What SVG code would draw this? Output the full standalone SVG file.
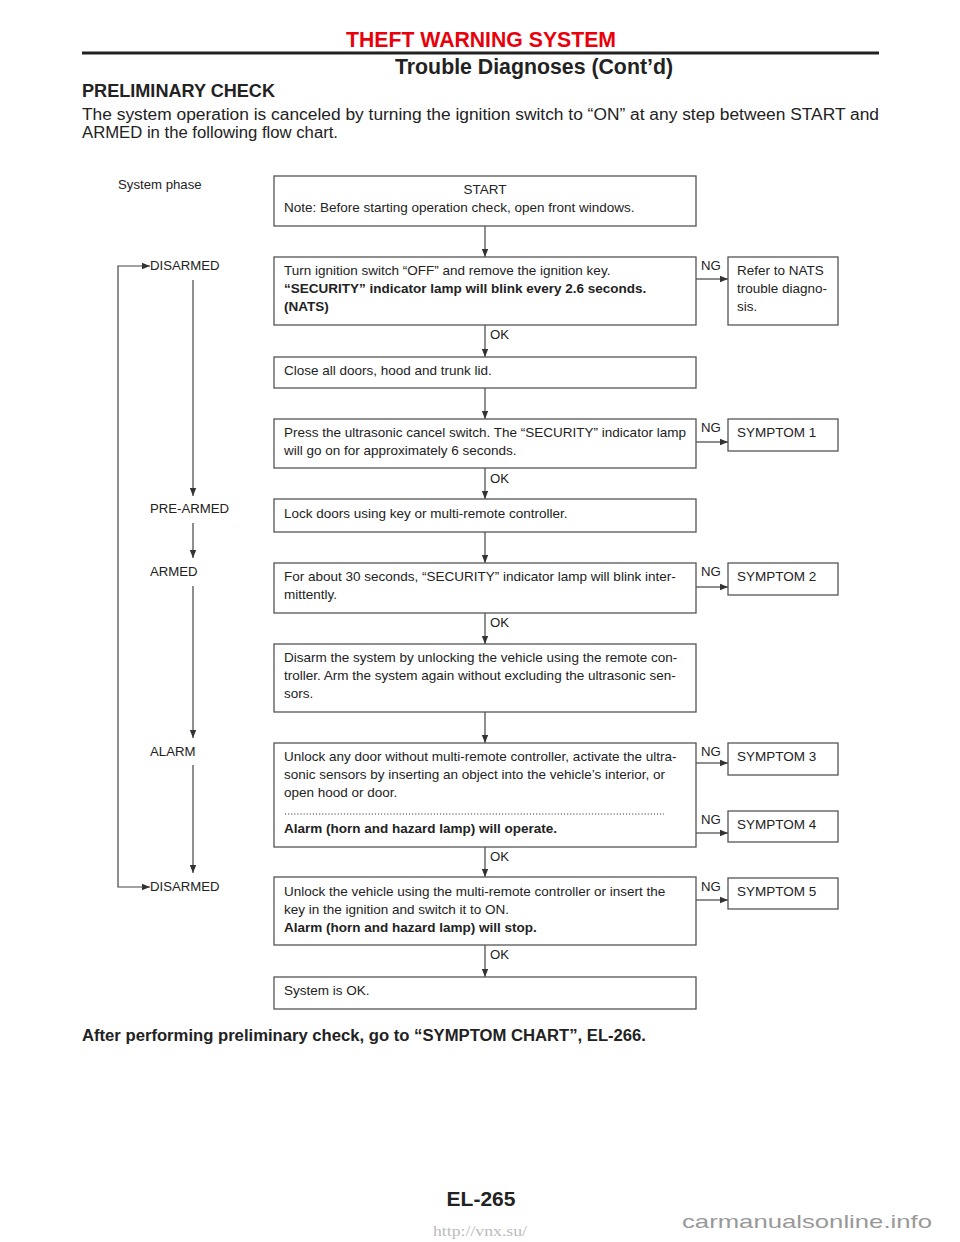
<svg xmlns="http://www.w3.org/2000/svg" width="960" height="1242" viewBox="0 0 960 1242">
<style>
  text { font-family: "Liberation Sans", Arial, sans-serif; fill: #222; }
  .t { font-size: 13.5px; }
  .p { font-size: 13.2px; }
  .b { font-weight: bold; }
  .box { fill: #fff; stroke: #555; stroke-width: 1.3; }
  .ln { fill: none; stroke: #444; stroke-width: 1.2; }
</style>
<defs>
  <marker id="ah" viewBox="0 0 10 10" refX="10" refY="5" markerWidth="8" markerHeight="8" orient="auto" markerUnits="userSpaceOnUse">
    <path d="M0,1 L10,5 L0,9 z" fill="#333"/>
  </marker>
</defs>
<rect width="960" height="1242" fill="#fff"/>

<g id="header">
  <text x="346" y="47" font-size="22" class="b" style="fill:#e8000b" textLength="270" lengthAdjust="spacingAndGlyphs">THEFT WARNING SYSTEM</text>
  <line x1="82" y1="53" x2="879" y2="53" stroke="#222" stroke-width="3"/>
  <text x="395" y="74" font-size="22" class="b" textLength="278" lengthAdjust="spacingAndGlyphs">Trouble Diagnoses (Cont’d)</text>
  <text x="82" y="97" font-size="18" class="b" textLength="193" lengthAdjust="spacingAndGlyphs">PRELIMINARY CHECK</text>
  <text x="82" y="120" font-size="16" textLength="797" lengthAdjust="spacingAndGlyphs">The system operation is canceled by turning the ignition switch to “ON” at any step between START and</text>
  <text x="82" y="138" font-size="16" textLength="256" lengthAdjust="spacingAndGlyphs">ARMED in the following flow chart.</text>
</g>

<g id="phases" class="p">
  <text x="118" y="189">System phase</text>
  <text x="150" y="270">DISARMED</text>
  <text x="150" y="513">PRE-ARMED</text>
  <text x="150" y="576">ARMED</text>
  <text x="150" y="756">ALARM</text>
  <text x="150" y="891">DISARMED</text>
</g>

<g id="connectors">
  <line class="ln" x1="485" y1="226" x2="485" y2="257" marker-end="url(#ah)"/>
  <line class="ln" x1="485" y1="325" x2="485" y2="357" marker-end="url(#ah)"/>
  <line class="ln" x1="485" y1="388" x2="485" y2="419" marker-end="url(#ah)"/>
  <line class="ln" x1="485" y1="468" x2="485" y2="499" marker-end="url(#ah)"/>
  <line class="ln" x1="485" y1="532" x2="485" y2="563" marker-end="url(#ah)"/>
  <line class="ln" x1="485" y1="613" x2="485" y2="644" marker-end="url(#ah)"/>
  <line class="ln" x1="485" y1="712" x2="485" y2="743" marker-end="url(#ah)"/>
  <line class="ln" x1="485" y1="847" x2="485" y2="877" marker-end="url(#ah)"/>
  <line class="ln" x1="485" y1="945" x2="485" y2="977" marker-end="url(#ah)"/>
  <line class="ln" x1="696" y1="279" x2="728" y2="279" marker-end="url(#ah)"/>
  <line class="ln" x1="696" y1="442" x2="728" y2="442" marker-end="url(#ah)"/>
  <line class="ln" x1="696" y1="587" x2="728" y2="587" marker-end="url(#ah)"/>
  <line class="ln" x1="696" y1="763" x2="728" y2="763" marker-end="url(#ah)"/>
  <line class="ln" x1="696" y1="833" x2="728" y2="833" marker-end="url(#ah)"/>
  <line class="ln" x1="696" y1="900" x2="728" y2="900" marker-end="url(#ah)"/>
  <line class="ln" x1="193" y1="280" x2="193" y2="496" marker-end="url(#ah)"/>
  <line class="ln" x1="193" y1="523" x2="193" y2="558" marker-end="url(#ah)"/>
  <line class="ln" x1="193" y1="586" x2="193" y2="738" marker-end="url(#ah)"/>
  <line class="ln" x1="193" y1="765" x2="193" y2="873" marker-end="url(#ah)"/>
  <path class="ln" d="M118,580 L118,266 L150,266" marker-end="url(#ah)"/>
  <path class="ln" d="M118,580 L118,887 L150,887" marker-end="url(#ah)"/>
</g>

<g id="labels" class="p">
  <text x="490" y="339">OK</text>
  <text x="490" y="483">OK</text>
  <text x="490" y="627">OK</text>
  <text x="490" y="861">OK</text>
  <text x="490" y="959">OK</text>
  <text x="701" y="270">NG</text>
  <text x="701" y="432">NG</text>
  <text x="701" y="576">NG</text>
  <text x="701" y="756">NG</text>
  <text x="701" y="824">NG</text>
  <text x="701" y="891">NG</text>
</g>

<g id="n-start">
  <rect class="box" x="274" y="176" width="422" height="50"/>
  <text class="t" x="485" y="194" text-anchor="middle">START</text>
  <text class="t" x="284" y="212">Note: Before starting operation check, open front windows.</text>
</g>
<g id="n-ignition">
  <rect class="box" x="274" y="257" width="422" height="68"/>
  <text class="t" x="284" y="275">Turn ignition switch “OFF” and remove the ignition key.</text>
  <text class="t b" x="284" y="293">“SECURITY” indicator lamp will blink every 2.6 seconds.</text>
  <text class="t b" x="284" y="311">(NATS)</text>
</g>
<g id="n-nats">
  <rect class="box" x="728" y="257" width="110" height="68"/>
  <text class="t" x="737" y="275">Refer to NATS</text>
  <text class="t" x="737" y="293">trouble diagno-</text>
  <text class="t" x="737" y="311">sis.</text>
</g>
<g id="n-close">
  <rect class="box" x="274" y="357" width="422" height="31"/>
  <text class="t" x="284" y="375">Close all doors, hood and trunk lid.</text>
</g>
<g id="n-press">
  <rect class="box" x="274" y="419" width="422" height="49"/>
  <text class="t" x="284" y="437">Press the ultrasonic cancel switch. The “SECURITY” indicator lamp</text>
  <text class="t" x="284" y="455">will go on for approximately 6 seconds.</text>
</g>
<g id="n-sym1">
  <rect class="box" x="728" y="419" width="110" height="32"/>
  <text class="t" x="737" y="437">SYMPTOM 1</text>
</g>
<g id="n-lock">
  <rect class="box" x="274" y="499" width="422" height="33"/>
  <text class="t" x="284" y="518">Lock doors using key or multi-remote controller.</text>
</g>
<g id="n-30s">
  <rect class="box" x="274" y="563" width="422" height="50"/>
  <text class="t" x="284" y="581">For about 30 seconds, “SECURITY” indicator lamp will blink inter-</text>
  <text class="t" x="284" y="599">mittently.</text>
</g>
<g id="n-sym2">
  <rect class="box" x="728" y="563" width="110" height="32"/>
  <text class="t" x="737" y="581">SYMPTOM 2</text>
</g>
<g id="n-disarm">
  <rect class="box" x="274" y="644" width="422" height="68"/>
  <text class="t" x="284" y="662">Disarm the system by unlocking the vehicle using the remote con-</text>
  <text class="t" x="284" y="680">troller. Arm the system again without excluding the ultrasonic sen-</text>
  <text class="t" x="284" y="698">sors.</text>
</g>
<g id="n-unlock">
  <rect class="box" x="274" y="743" width="422" height="104"/>
  <text class="t" x="284" y="761">Unlock any door without multi-remote controller, activate the ultra-</text>
  <text class="t" x="284" y="779">sonic sensors by inserting an object into the vehicle’s interior, or</text>
  <text class="t" x="284" y="797">open hood or door.</text>
  <line x1="285" y1="814" x2="664" y2="814" stroke="#333" stroke-width="1.1" stroke-dasharray="1.1 2"/>
  <text class="t b" x="284" y="833">Alarm (horn and hazard lamp) will operate.</text>
</g>
<g id="n-sym3">
  <rect class="box" x="728" y="743" width="110" height="32"/>
  <text class="t" x="737" y="761">SYMPTOM 3</text>
</g>
<g id="n-sym4">
  <rect class="box" x="728" y="811" width="110" height="31"/>
  <text class="t" x="737" y="829">SYMPTOM 4</text>
</g>
<g id="n-stop">
  <rect class="box" x="274" y="877" width="422" height="68"/>
  <text class="t" x="284" y="896">Unlock the vehicle using the multi-remote controller or insert the</text>
  <text class="t" x="284" y="914">key in the ignition and switch it to ON.</text>
  <text class="t b" x="284" y="932">Alarm (horn and hazard lamp) will stop.</text>
</g>
<g id="n-sym5">
  <rect class="box" x="728" y="878" width="110" height="31"/>
  <text class="t" x="737" y="896">SYMPTOM 5</text>
</g>
<g id="n-ok">
  <rect class="box" x="274" y="977" width="422" height="32"/>
  <text class="t" x="284" y="995">System is OK.</text>
</g>

<g id="footer">
  <text x="82" y="1041" font-size="16" class="b" textLength="564" lengthAdjust="spacingAndGlyphs">After performing preliminary check, go to “SYMPTOM CHART”, EL-266.</text>
  <text x="481" y="1206" font-size="21" class="b" text-anchor="middle">EL-265</text>
  <text x="433" y="1236" font-size="15" style="font-family:'Liberation Serif',serif;fill:#bbb" textLength="94" lengthAdjust="spacingAndGlyphs">http://vnx.su/</text>
  <text x="682" y="1228" font-size="19" style="fill:#999" textLength="250" lengthAdjust="spacingAndGlyphs">carmanualsonline.info</text>
</g>
</svg>
